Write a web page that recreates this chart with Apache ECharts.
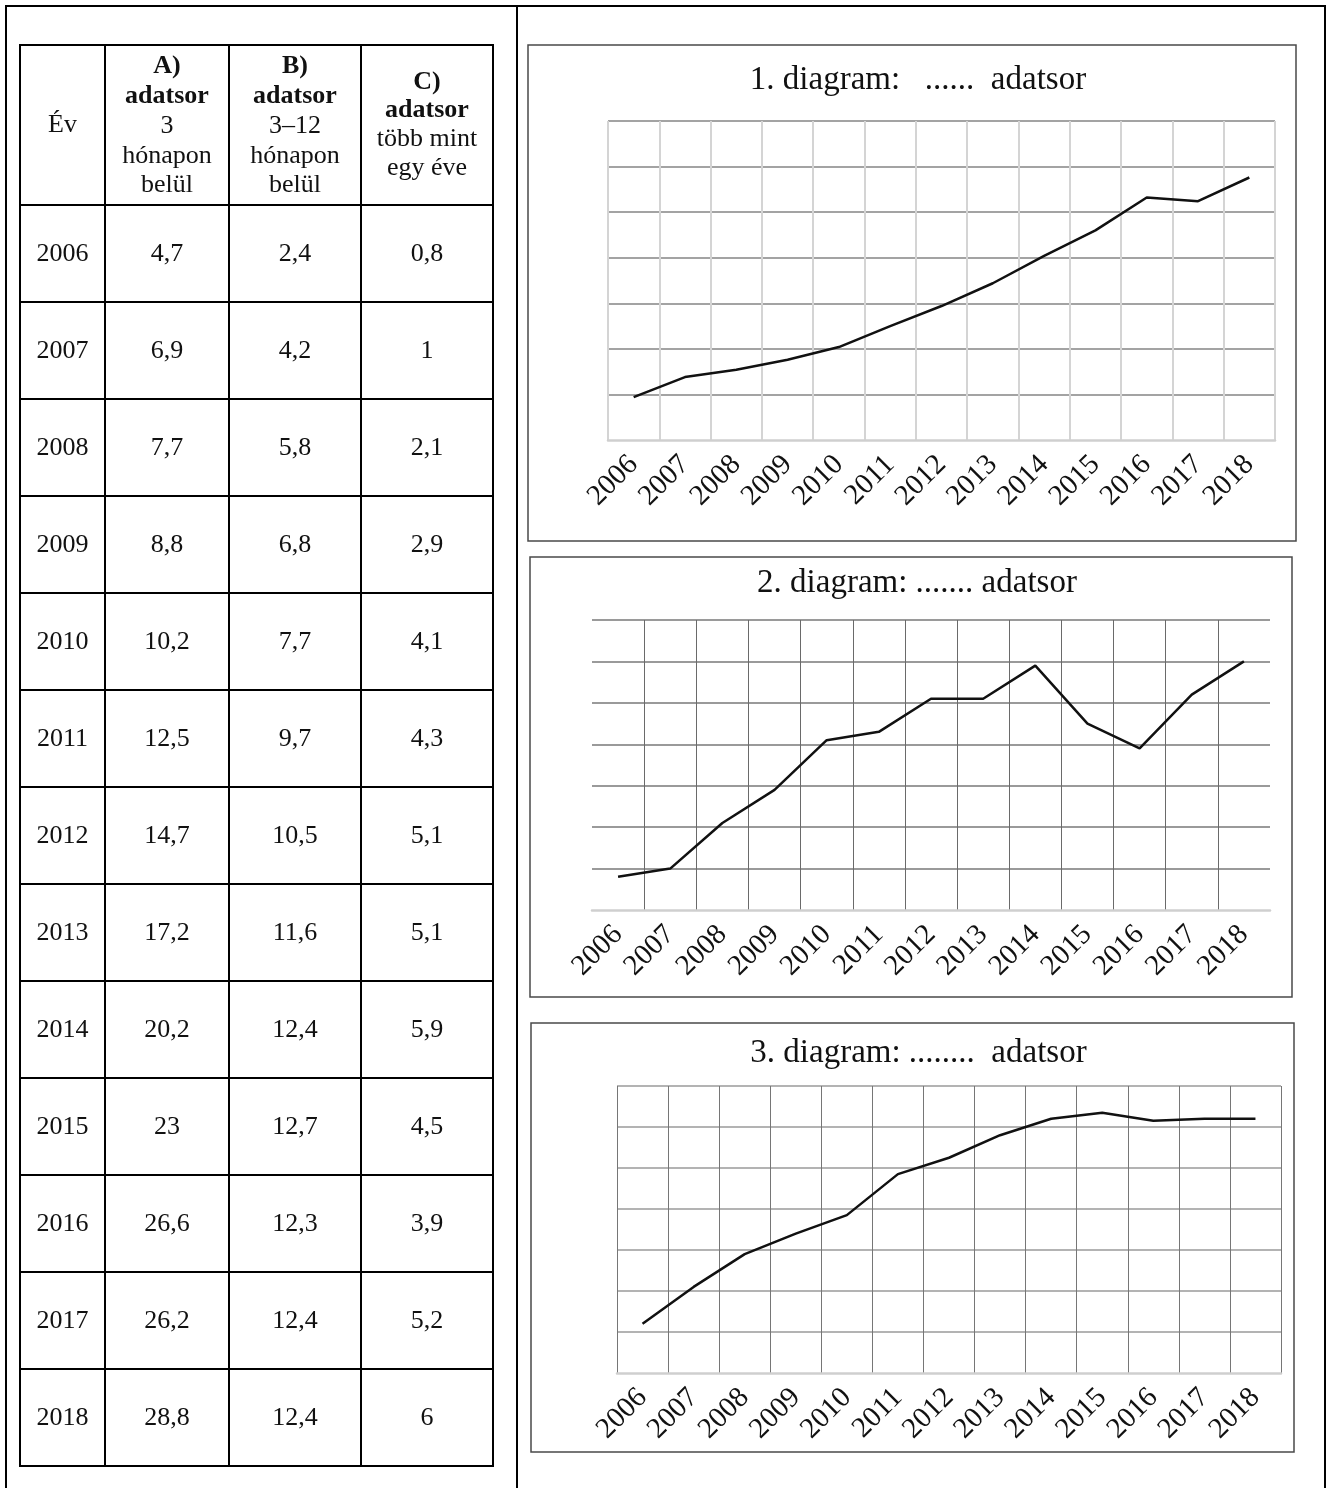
<!DOCTYPE html>
<html>
<head>
<meta charset="utf-8">
<title>adatsor diagramok</title>
<script src="https://cdn.jsdelivr.net/npm/echarts@6/dist/echarts.min.js"></script>
<style>
    html, body { margin: 0; padding: 0; background: #fff; }
    #main { width: 1332px; height: 1488px; }
</style>
</head>
<body>
<div id="main"></div>
<script>
// adatok (táblázat)
const years = ['2006', '2007', '2008', '2009', '2010', '2011', '2012', '2013', '2014', '2015', '2016', '2017', '2018'];
const dataA = [4.7, 6.9, 7.7, 8.8, 10.2, 12.5, 14.7, 17.2, 20.2, 23, 26.6, 26.2, 28.8];
const dataB = [2.4, 4.2, 5.8, 6.8, 7.7, 9.7, 10.5, 11.6, 12.4, 12.7, 12.3, 12.4, 12.4];
const dataC = [0.8, 1, 2.1, 2.9, 4.1, 4.3, 5.1, 5.1, 5.9, 4.5, 3.9, 5.2, 6];

// fejléc sorai (az első két sor félkövér az A-C oszlopoknál)
const headYear = ['Év'];
const headA = ['A)', 'adatsor', '3', 'hónapon', 'belül'];
const headB = ['B)', 'adatsor', '3–12', 'hónapon', 'belül'];
const headC = ['C)', 'adatsor', 'több mint', 'egy éve'];

// diagramok címei
const chartTitles = ['1. diagram:   ......  adatsor', '2. diagram: ....... adatsor', '3. diagram: ........  adatsor'];

const serif = "'Liberation Serif', 'Times New Roman', serif";

(function () {
    let myChart = echarts.init(document.getElementById('main'));

    function line(x1, y1, x2, y2, color, w) {
        return { type: 'line', silent: true, shape: { x1: x1, y1: y1, x2: x2, y2: y2 }, style: { stroke: color, lineWidth: w } };
    }
    function text(x, y, str, size, bold) {
        return {
            type: 'text', silent: true, x: x, y: y,
            style: {
                text: str, fontFamily: serif, fontSize: size, fontWeight: bold ? 'bold' : 'normal',
                fill: '#111', align: 'center', verticalAlign: 'middle'
            }
        };
    }
    const fmt = v => String(v).replace('.', ',');

    let graphic = [];

    // keret
    graphic.push(line(5, 6, 1326, 6, '#000', 2));
    graphic.push(line(6, 5, 6, 1488, '#000', 2));
    graphic.push(line(517, 5, 517, 1488, '#000', 2));
    graphic.push(line(1325, 5, 1325, 1488, '#000', 2));

    // táblázat
    const colX = [20, 105, 229, 361, 493];
    const tableTop = 45, headBottom = 205, rowH = 97;
    const tableBottom = headBottom + rowH * years.length;
    graphic.push(line(colX[0] - 1, tableTop, colX[4] + 1, tableTop, '#000', 2));
    for (let i = 0; i <= years.length; i++) {
        let y = headBottom + rowH * i;
        graphic.push(line(colX[0] - 1, y, colX[4] + 1, y, '#000', 2));
    }
    colX.forEach(x => graphic.push(line(x, tableTop, x, tableBottom + 1, '#000', 2)));

    const heads = [headYear, headA, headB, headC];
    heads.forEach((h, j) => {
        let cx = (colX[j] + colX[j + 1]) / 2;
        let pitch = h.length > 4 ? 29.7 : 28.5;
        let mid = h.length > 4 ? 126 : 125;
        h.forEach((s, k) => {
            let y = mid + (k - (h.length - 1) / 2) * pitch;
            graphic.push(text(cx, y, s, 26, j > 0 && k < 2));
        });
    });

    years.forEach((yr, i) => {
        let cy = headBottom + rowH * (i + 0.5) + 1;
        [yr, fmt(dataA[i]), fmt(dataB[i]), fmt(dataC[i])].forEach((s, j) => {
            graphic.push(text((colX[j] + colX[j + 1]) / 2, cy, s, 26, false));
        });
    });

    // diagramok
    const charts = [
        { data: dataA, max: 35, step: 5, box: [528, 45, 768, 496], titleTop: 64,
          grid: { left: 608, top: 121, width: 667, height: 319 },
          vColor: '#d4d4d4', vWidth: 2, hColor: '#858585', hWidth: 1.5, edges: true },
        { data: dataC, max: 7, step: 1, box: [530, 557, 762, 440], titleTop: 567,
          grid: { left: 592, top: 620, width: 678, height: 290 },
          vColor: '#6a6a6a', vWidth: 1, hColor: '#9a9a9a', hWidth: 2, edges: false },
        { data: dataB, max: 14, step: 2, box: [531, 1023, 763, 429], titleTop: 1037,
          grid: { left: 617, top: 1086, width: 664, height: 287 },
          vColor: '#767676', vWidth: 1, hColor: '#9a9a9a', hWidth: 1.5, edges: true }
    ];

    charts.forEach(c => {
        graphic.push({
            type: 'rect', silent: true,
            shape: { x: c.box[0], y: c.box[1], width: c.box[2], height: c.box[3] },
            style: { fill: 'none', stroke: '#4a4a4a', lineWidth: 1.5 }
        });
    });

    let option = {
        animation: false,
        backgroundColor: '#fff',
        title: charts.map((c, i) => ({
            text: chartTitles[i],
            left: c.box[0] + c.box[2] / 2 + 6,
            top: c.titleTop,
            textAlign: 'center',
            padding: 0,
            textStyle: { fontFamily: serif, fontSize: 33, fontWeight: 'normal', color: '#111' }
        })),
        grid: charts.map(c => Object.assign({ outerBoundsMode: 'none', containLabel: false }, c.grid)),
        xAxis: charts.map((c, i) => ({
            gridIndex: i,
            type: 'category',
            data: years,
            boundaryGap: true,
            axisTick: { show: false },
            axisLine: { show: true, lineStyle: { color: '#cfcfcf', width: 2.5 } },
            axisLabel: { interval: 0, rotate: 45, margin: 20, fontFamily: serif, fontSize: 29, color: '#111' },
            splitLine: {
                show: true, interval: 0, showMinLine: c.edges, showMaxLine: c.edges,
                lineStyle: { color: c.vColor, width: c.vWidth }
            }
        })),
        yAxis: charts.map((c, i) => ({
            gridIndex: i,
            type: 'value',
            min: 0,
            max: c.max,
            interval: c.step,
            axisLabel: { show: false },
            axisLine: { show: false },
            axisTick: { show: false },
            splitLine: { show: true, showMinLine: false, lineStyle: { color: c.hColor, width: c.hWidth } }
        })),
        series: charts.map((c, i) => ({
            type: 'line',
            xAxisIndex: i,
            yAxisIndex: i,
            data: c.data,
            symbol: 'none',
            silent: true,
            lineStyle: { color: '#111', width: 2.5 }
        })),
        graphic: graphic
    };
    myChart.setOption(option);

    window.addEventListener('resize', function () {
        myChart.resize();
    });
})();
</script>
</body>
</html>
